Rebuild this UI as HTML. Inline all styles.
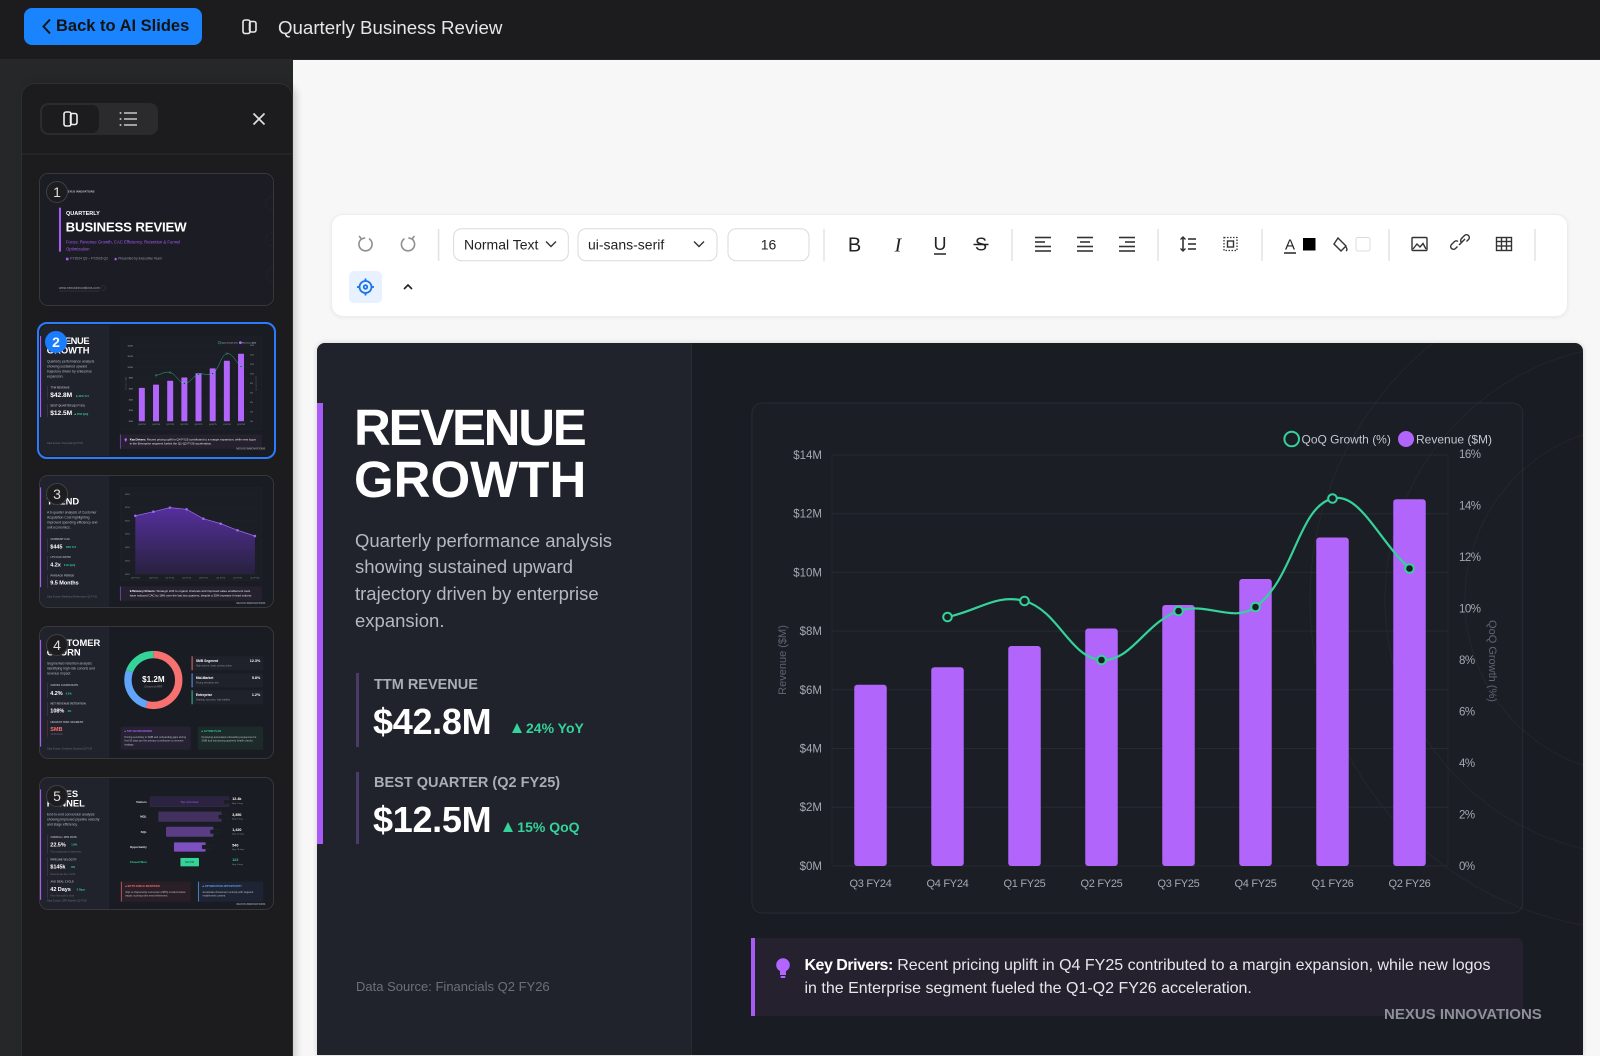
<!DOCTYPE html>
<html><head><meta charset="utf-8"><title>Quarterly Business Review</title>
<style>
*{margin:0;padding:0;box-sizing:border-box}
html,body{width:1600px;height:1056px;overflow:hidden}
body{position:relative;background:#f7f7f7;font-family:"Liberation Sans","DejaVu Sans",sans-serif}
.a{position:absolute}
.nw{white-space:nowrap}
.slide{position:absolute;width:1266px;height:712px;background:#1a1c23;overflow:hidden}
.lp{position:absolute;left:0;top:0;width:375px;height:712px;background:#20232c;border-right:1px solid #282b34}
.pb{position:absolute;left:0;width:6px;background:#a95bf6}
.tt{position:absolute;left:37px;top:59px;font-weight:bold;font-size:51px;line-height:52px;color:#fff;white-space:nowrap}
.sub{position:absolute;left:38px;top:184.5px;font-size:18.5px;line-height:26.7px;color:#b4b8c2;white-space:nowrap}
.mb{position:absolute;left:39px;width:3px;background:#4a3b68}
.ml{position:absolute;left:57px;font-size:14.5px;font-weight:bold;color:#a9adb6;line-height:18px;white-space:nowrap}
.mv{position:absolute;left:56px;font-size:36px;font-weight:bold;color:#fff;line-height:40px;white-space:nowrap;letter-spacing:-.3px}
.mg{position:absolute;font-size:14px;font-weight:bold;color:#34d399;line-height:18px;white-space:nowrap}
.ms{position:absolute;left:57px;font-size:12px;color:#6c707b;line-height:16px;white-space:nowrap}
.tri{position:absolute;width:0;height:0;border-left:5.3px solid transparent;border-right:5.3px solid transparent;border-bottom:10px solid #34d399}
.ds{position:absolute;left:39px;font-size:13px;color:#6c707b;line-height:16px;white-space:nowrap}
.cb{position:absolute;left:435px;top:60px;width:771px;height:510px;border-radius:10px;background:#1c1e26;border:1px solid #282b34}
.kb{position:absolute;left:434px;top:595px;width:772px;height:78px;background:#25212f;border-left:4px solid #a95bf6;border-radius:0 6px 6px 0}
.kt{position:absolute;left:487.5px;top:611.8px;font-size:16px;line-height:22.7px;color:#e6e7eb;white-space:nowrap}
.nx{position:absolute;left:1067px;top:663px;font-size:15px;font-weight:bold;color:#8d9099;line-height:18px;white-space:nowrap}
.th{position:absolute;left:40px;width:233px;height:131px;border-radius:8px;overflow:hidden;box-shadow:0 0 0 1px #38383b;background:#1a1c23}
.th .slide{left:0;top:0;transform:scale(.184);transform-origin:0 0}
.bd{position:absolute;width:22px;height:22px;border-radius:50%;background:#1d1d1f;border:1px solid #404043;color:#ddd;font-size:14px;line-height:20px;text-align:center}
.card{position:absolute;left:824px;width:389px;height:76px;background:#1f222b;border-left:5px solid #f87171}
.card b{position:absolute;left:18px;top:14px;font-size:18px;color:#fff}
.card i{position:absolute;left:18px;top:44px;font-size:13px;color:#8a8d96;font-style:normal;white-space:nowrap}
.card em{position:absolute;right:16px;top:14px;font-size:20px;font-weight:bold;color:#fff;font-style:normal}
.bx{position:absolute;border-radius:6px;padding:16px 20px;font-size:14px;line-height:20px;color:#b9bcc5}
.bx h4{font-size:13px;margin-bottom:10px;letter-spacing:.5px}
</style></head><body>

<!-- Top bar -->
<div class="a" style="left:0;top:0;width:1600px;height:60px;background:#1c1c1e;border-bottom:1px solid #29292b"></div>
<div class="a" style="left:24px;top:8px;width:178px;height:37px;background:#1a84ff;border-radius:8px"></div>
<svg class="a" style="left:0;top:0" width="540" height="60">
  <polyline points="50,19.5 43.5,26.5 50,33.5" fill="none" stroke="#141414" stroke-width="2"/>
  <g fill="none" stroke="#e8e8e8" stroke-width="1.6">
    <rect x="243" y="20" width="7" height="13.5" rx="2"/>
    <rect x="249.5" y="21.5" width="6.5" height="10.5" rx="2"/>
  </g>
</svg>
<div class="a nw" style="left:56px;top:14px;font-size:16.5px;font-weight:bold;color:#131313;line-height:24px">Back to AI Slides</div>
<div class="a nw" style="left:278px;top:14.5px;font-size:18.7px;color:#e6e6e6;line-height:25px">Quarterly Business Review</div>

<!-- Sidebar -->
<div class="a" style="left:0;top:60px;width:293px;height:996px;background:#262729"></div>
<div class="a" style="left:21px;top:83px;width:272px;height:980px;background:#1c1c1e;border:1px solid #2e2f31;border-radius:14px 14px 0 0;box-shadow:3px 0 8px rgba(0,0,0,.18)"></div>
<svg class="a" style="left:0;top:60px" width="293" height="110">
  <g transform="translate(0,-60)">
    <rect x="40" y="103" width="118" height="32" rx="8" fill="#2b2b2e"/>
    <rect x="42" y="105" width="57" height="28" rx="7" fill="#1c1c1e"/>
    <g fill="none" stroke="#ececec" stroke-width="1.6">
      <rect x="64" y="112" width="7" height="14" rx="2"/>
      <rect x="70.5" y="113.5" width="6.5" height="11" rx="2"/>
    </g>
    <g stroke="#bdbdbf" stroke-width="1.6">
      <line x1="124" y1="113" x2="137" y2="113"/><line x1="124" y1="119" x2="137" y2="119"/><line x1="124" y1="125" x2="137" y2="125"/>
    </g>
    <g fill="#bdbdbf"><circle cx="120.5" cy="113" r="1"/><circle cx="120.5" cy="119" r="1"/><circle cx="120.5" cy="125" r="1"/></g>
    <g stroke="#e0e0e0" stroke-width="1.7"><line x1="253.5" y1="113.5" x2="264.5" y2="124.5"/><line x1="264.5" y1="113.5" x2="253.5" y2="124.5"/></g>
    <line x1="22" y1="154" x2="292" y2="154" stroke="#2d2d30"/>
  </g>
</svg>

<!-- Thumbnail 1 -->
<div class="th" style="top:174px">
  <div class="slide" style="background:#1b1c24">
    <div class="a nw" style="left:141px;top:88px;font-size:14px;font-weight:bold;color:#c8c8d0;letter-spacing:.5px">NEXUS INNOVATIONS</div>
    <div class="a" style="left:103px;top:183px;width:11px;height:239px;background:#a95bf6"></div>
    <div class="a nw" style="left:141px;top:197px;font-size:30px;font-weight:bold;color:#fff;line-height:34px">QUARTERLY</div>
    <div class="a nw" style="left:139px;top:248px;font-size:72px;font-weight:bold;color:#fff;line-height:80px;letter-spacing:-1px">BUSINESS REVIEW</div>
    <div class="a nw" style="left:141px;top:352px;font-size:23px;color:#a95bf6;line-height:37px">Focus: Revenue Growth, CAC Efficiency, Retention &amp; Funnel<br>Optimization</div>
    <div class="a" style="left:141px;top:455px;width:14px;height:14px;background:#a95bf6"></div>
    <div class="a nw" style="left:165px;top:450px;font-size:18px;color:#9a9ca6">FY2024 Q3 – FY2026 Q2</div>
    <div class="a" style="left:405px;top:455px;width:12px;height:14px;border-radius:6px 6px 2px 2px;background:#a95bf6"></div>
    <div class="a nw" style="left:425px;top:450px;font-size:18px;color:#9a9ca6">Presented by Executive Team</div>
    <div class="a nw" style="left:103px;top:608px;font-size:18px;color:#a0a2ab;border-bottom:2px solid #555;padding-bottom:6px">www.nexusinnovations.com</div>
    <div class="a" style="left:330px;top:606px;width:28px;height:28px;border-radius:50%;border:2px solid #4a4b52"></div>
    <div class="a" style="left:1226px;top:120px;width:76px;height:76px;border-radius:50%;border:2px solid #2e2f38"></div>
    <div class="a" style="left:1226px;top:317px;width:76px;height:76px;border-radius:50%;border:2px solid #2e2f38"></div>
    <div class="a" style="left:1226px;top:512px;width:76px;height:76px;border-radius:50%;border:2px solid #2e2f38"></div>
  </div>
  <div class="bd" style="left:6px;top:7px">1</div>
</div>

<!-- Thumbnail 2 (selected) -->
<div class="a" style="left:37px;top:322px;width:239px;height:137px;border:2px solid #2a7cff;border-radius:10px"></div>
<div class="th" style="top:325px;box-shadow:none">
  <div class="slide">
    <div class="lp"></div>
    <div class="pb" style="top:60px;height:441px"></div>
    <div class="tt"><span style="letter-spacing:-2.3px">REVENUE</span><br>GROWTH</div>
    <div class="sub">Quarterly performance analysis<br>showing sustained upward<br>trajectory driven by enterprise<br>expansion.</div>
    <div class="mb" style="top:330px;height:74px"></div>
    <div class="ml" style="top:333px">TTM REVENUE</div>
    <div class="mv" style="top:358.5px">$42.8M</div>
    <div class="tri" style="left:194.7px;top:380.3px"></div>
    <div class="mg" style="left:209px;top:376px">24% YoY</div>
    <div class="mb" style="top:429px;height:72px"></div>
    <div class="ml" style="top:430.7px">BEST QUARTER (Q2 FY25)</div>
    <div class="mv" style="top:457.2px">$12.5M</div>
    <div class="tri" style="left:186.3px;top:479px"></div>
    <div class="mg" style="left:200.3px;top:475px">15% QoQ</div>
    <div class="ds" style="top:636.2px">Data Source: Financials Q2 FY26</div>
    <svg class="a" style="left:0;top:0" width="1266" height="712">
      <g transform="translate(-317,-343)" font-family="Liberation Sans, sans-serif">
        <rect x="752" y="403" width="770.7" height="510" rx="10" fill="#1c1e26" stroke="#282b34"/>
        <g stroke="#282b34"><line x1="832" y1="455" x2="1448" y2="455"/><line x1="832" y1="513.7" x2="1448" y2="513.7"/><line x1="832" y1="572.4" x2="1448" y2="572.4"/><line x1="832" y1="631.1" x2="1448" y2="631.1"/><line x1="832" y1="689.8" x2="1448" y2="689.8"/><line x1="832" y1="748.5" x2="1448" y2="748.5"/><line x1="832" y1="807.2" x2="1448" y2="807.2"/><line x1="832" y1="865.9" x2="1448" y2="865.9"/></g>
        <g fill="#b165fb"><rect x="854.25" y="684.7" width="32.5" height="181.3" rx="3"/><rect x="931.25" y="667.3" width="32.5" height="198.7" rx="3"/><rect x="1008.25" y="646" width="32.5" height="220" rx="3"/><rect x="1085.25" y="628.5" width="32.5" height="237.5" rx="3"/><rect x="1162.25" y="605" width="32.5" height="261" rx="3"/><rect x="1239.25" y="579" width="32.5" height="287" rx="3"/><rect x="1316.25" y="537.5" width="32.5" height="328.5" rx="3"/><rect x="1393.25" y="499.3" width="32.5" height="366.7" rx="3"/></g>
        <path d="M947.5,617 C978.3,610.6 996.9,593.3 1024.5,601 C1058.5,610.5 1069.8,657.9 1101.5,660 C1131.4,661.9 1145.1,622.5 1178.5,611 C1206.7,601.3 1232.9,623.5 1255.5,607 C1294.5,578.5 1297.9,507.1 1332.5,498.5 C1359.5,491.7 1378.7,540.5 1409.5,568.5" fill="none" stroke="#34d399" stroke-width="2.2"/>
        <g fill="#1c1e26" stroke="#34d399" stroke-width="2"><circle cx="947.5" cy="617" r="4.3"/><circle cx="1024.5" cy="601" r="4.3"/><circle cx="1101.5" cy="660" r="4.3"/><circle cx="1178.5" cy="611" r="4.3"/><circle cx="1255.5" cy="607" r="4.3"/><circle cx="1332.5" cy="498.5" r="4.3"/><circle cx="1409.5" cy="568.5" r="4.3"/></g>
        <g fill="#a4a8b1" font-size="11.5" text-anchor="end"><text x="822" y="459">$14M</text><text x="822" y="517.7">$12M</text><text x="822" y="576.4">$10M</text><text x="822" y="635.1">$8M</text><text x="822" y="693.8">$6M</text><text x="822" y="752.5">$4M</text><text x="822" y="811.2">$2M</text><text x="822" y="869.9">$0M</text></g>
        <g fill="#a4a8b1" font-size="11.5" letter-spacing="-.5"><text x="1459" y="458">16%</text><text x="1459" y="509.5">14%</text><text x="1459" y="561">12%</text><text x="1459" y="612.5">10%</text><text x="1459" y="664">8%</text><text x="1459" y="715.5">6%</text><text x="1459" y="767">4%</text><text x="1459" y="818.5">2%</text><text x="1459" y="870">0%</text></g>
        <g fill="#a4a8b1" font-size="11" text-anchor="middle" letter-spacing="-.3"><text x="870.5" y="887">Q3 FY24</text><text x="947.5" y="887">Q4 FY24</text><text x="1024.5" y="887">Q1 FY25</text><text x="1101.5" y="887">Q2 FY25</text><text x="1178.5" y="887">Q3 FY25</text><text x="1255.5" y="887">Q4 FY25</text><text x="1332.5" y="887">Q1 FY26</text><text x="1409.5" y="887">Q2 FY26</text></g>
        <text transform="translate(786,660) rotate(-90)" text-anchor="middle" font-size="11" fill="#5f6370">Revenue ($M)</text>
        <text transform="translate(1489,661) rotate(90)" text-anchor="middle" font-size="11" fill="#5f6370">QoQ Growth (%)</text>
        <circle cx="1291.7" cy="439" r="7.3" fill="none" stroke="#34d399" stroke-width="2"/>
        <text x="1301.5" y="443.5" font-size="12" fill="#c3c6ce">QoQ Growth (%)</text>
        <circle cx="1406" cy="439" r="8" fill="#b165fb"/>
        <text x="1416" y="443.5" font-size="12" fill="#c3c6ce">Revenue ($M)</text>
      </g>
    </svg>
    <div class="kb"></div>
    <svg class="a" style="left:456px;top:612px" width="22" height="26"><circle cx="10" cy="10" r="6.8" fill="#b266ff"/><rect x="7" y="15" width="6" height="5" fill="#b266ff"/><rect x="7.5" y="21" width="5" height="2" rx="1" fill="#b266ff"/></svg>
    <div class="kt"><b style="letter-spacing:-.5px;color:#fff">Key Drivers:</b> Recent pricing uplift in Q4 FY25 contributed to a margin expansion, while new logos<br>in the Enterprise segment fueled the Q1-Q2 FY26 acceleration.</div>
    <div class="nx">NEXUS INNOVATIONS</div>
  </div>
  <div class="bd" style="left:5px;top:6px;background:#1a7cff;border-color:#1a7cff;color:#fff;font-weight:bold">2</div>
</div>

<!-- Thumbnail 3 -->
<div class="th" style="top:476px">
  <div class="slide">
    <div class="lp"></div>
    <div class="pb" style="top:62px;height:542px"></div>
    <div class="tt">CAC<br>TREND</div>
    <div class="sub">A 6-quarter analysis of Customer<br>Acquisition Cost highlighting<br>improved spending efficiency and<br>unit economics.</div>
    <div class="mb" style="top:339px;height:76px"></div>
    <div class="ml" style="top:336px">CURRENT CAC</div>
    <div class="mv" style="top:364px;font-size:30px">$445</div>
    <div class="mg" style="left:140px;top:376px">18% YoY</div>
    <div class="mb" style="top:436px;height:77px"></div>
    <div class="ml" style="top:434px">LTV:CAC RATIO</div>
    <div class="mv" style="top:462px;font-size:30px">4.2x</div>
    <div class="mg" style="left:130px;top:474px">0.3x QoQ</div>
    <div class="mb" style="top:536px;height:71px"></div>
    <div class="ml" style="top:532px">PAYBACK PERIOD</div>
    <div class="mv" style="top:560px;font-size:30px">9.5 Months</div>
    <div class="ds" style="top:648px">Data Source: Marketing Performance Q2 FY26</div>
    <div class="cb"></div>
    <svg class="a" style="left:0;top:0" width="1266" height="712">
      <defs><linearGradient id="ag" x1="0" y1="0" x2="0" y2="1"><stop offset="0" stop-color="#7c3aed" stop-opacity=".6"/><stop offset="1" stop-color="#7c3aed" stop-opacity=".12"/></linearGradient></defs>
      <g stroke="#282b34"><line x1="500" y1="98" x2="1185" y2="98"/><line x1="500" y1="170" x2="1185" y2="170"/><line x1="500" y1="243" x2="1185" y2="243"/><line x1="500" y1="315" x2="1185" y2="315"/><line x1="500" y1="388" x2="1185" y2="388"/><line x1="500" y1="460" x2="1185" y2="460"/><line x1="500" y1="533" x2="1185" y2="533"/></g>
      <path d="M518,216 L616,194 L706,172 L797,181 L888,232 L982,259 L1073,295 L1168,326 L1168,533 L518,533 Z" fill="url(#ag)"/>
      <polyline points="518,216 616,194 706,172 797,181 888,232 982,259 1073,295 1168,326" fill="none" stroke="#9b6cf0" stroke-width="4"/>
      <g fill="#9b6cf0"><circle cx="518" cy="216" r="7"/><circle cx="616" cy="194" r="7"/><circle cx="706" cy="172" r="7"/><circle cx="797" cy="181" r="7"/><circle cx="888" cy="232" r="7"/><circle cx="982" cy="259" r="7"/><circle cx="1073" cy="295" r="7"/><circle cx="1168" cy="326" r="7"/></g>
      <g fill="#8a8d96" font-size="12" text-anchor="end"><text x="489" y="102">$600</text><text x="489" y="174">$550</text><text x="489" y="247">$500</text><text x="489" y="319">$450</text><text x="489" y="392">$400</text><text x="489" y="464">$350</text><text x="489" y="537">$300</text></g>
      <g fill="#8a8d96" font-size="12" text-anchor="middle"><text x="518" y="556">Q3 FY24</text><text x="616" y="556">Q4 FY24</text><text x="706" y="556">Q1 FY25</text><text x="797" y="556">Q2 FY25</text><text x="888" y="556">Q3 FY25</text><text x="982" y="556">Q4 FY25</text><text x="1073" y="556">Q1 FY26</text><text x="1168" y="556">Q2 FY26</text></g>
    </svg>
    <div class="kb" style="top:600px"></div>
    <div class="kt" style="top:616px;left:488px"><b style="color:#fff">Efficiency Drivers:</b> Strategic shift to organic channels and improved sales enablement tools<br>have reduced CAC by 18% over the last two quarters, despite a 25% increase in lead volume.</div>
    <div class="nx" style="top:684px">NEXUS INNOVATIONS</div>
  </div>
  <div class="bd" style="left:6px;top:7px">3</div>
</div>

<!-- Thumbnail 4 -->
<div class="th" style="top:627px">
  <div class="slide">
    <div class="lp"></div>
    <div class="pb" style="top:70px;height:580px"></div>
    <div class="tt">CUSTOMER<br>CHURN</div>
    <div class="sub">Segmented retention analysis<br>identifying high-risk cohorts and<br>revenue impact.</div>
    <div class="mb" style="top:305px;height:80px"></div>
    <div class="ml" style="top:308px">GROSS CHURN RATE</div>
    <div class="mv" style="top:340px;font-size:30px">4.2%</div>
    <div class="mg" style="left:140px;top:352px">0.3%</div>
    <div class="mb" style="top:405px;height:80px"></div>
    <div class="ml" style="top:409px">NET REVENUE RETENTION</div>
    <div class="mv" style="top:435px;font-size:30px">108%</div>
    <div class="mg" style="left:150px;top:447px">2%</div>
    <div class="mb" style="top:505px;height:92px;background:#6b2f3a"></div>
    <div class="ml" style="top:508px">HIGHEST RISK SEGMENT</div>
    <div class="mv" style="top:535px;font-size:30px;color:#f87171">SMB</div>
    <div class="ms" style="top:575px">12.3% churn</div>
    <div class="ds" style="top:655px">Data Source: Customer Success Q2 FY26</div>
    <svg class="a" style="left:0;top:0" width="1266" height="712">
      <g transform="rotate(-90 616 288)" fill="none" stroke-width="40">
        <circle cx="616" cy="288" r="138" stroke="#f87171" stroke-dasharray="469.7 867.1"/>
        <circle cx="616" cy="288" r="138" stroke="#60a5fa" stroke-dasharray="228.8 867.1" stroke-dashoffset="-469.7"/>
        <circle cx="616" cy="288" r="138" stroke="#34d399" stroke-dasharray="168.6 867.1" stroke-dashoffset="-698.5"/>
      </g>
      <text x="616" y="300" text-anchor="middle" font-size="44" font-weight="bold" fill="#fff">$1.2M</text>
      <text x="616" y="330" text-anchor="middle" font-size="16" fill="#8a8d96">Churned ARR</text>
    </svg>
    <div class="card" style="top:159px"><b>SMB Segment</b><i>High volume, lower contract value</i><em>12.3%</em></div>
    <div class="card" style="top:252px;border-left-color:#60a5fa"><b>Mid-Market</b><i>Pricing sensitivity risk</i><em>5.8%</em></div>
    <div class="card" style="top:344px;border-left-color:#34d399"><b>Enterprise</b><i>Strategic accounts, high stability</i><em>1.2%</em></div>
    <div class="bx" style="left:439px;top:542px;width:380px;height:125px;background:#262233"><h4 style="color:#b266ff">■ TOP CHURN DRIVER</h4>Pricing sensitivity in SMB and onboarding gaps during first 90 days are the primary contributors to revenue leakage.</div>
    <div class="bx" style="left:858px;top:542px;width:355px;height:125px;background:#1d2a2a"><h4 style="color:#34d399">■ ACTION PLAN</h4>Deploying automated onboarding sequences for SMB and introducing quarterly health checks.</div>
  </div>
  <div class="bd" style="left:6px;top:7px">4</div>
</div>

<!-- Thumbnail 5 -->
<div class="th" style="top:778px">
  <div class="slide">
    <div class="lp"></div>
    <div class="pb" style="top:62px;height:600px"></div>
    <div class="tt">SALES<br>FUNNEL</div>
    <div class="sub">End-to-end conversion analysis<br>showing improved pipeline velocity<br>and stage efficiency.</div>
    <div class="mb" style="top:311px;height:102px"></div>
    <div class="ml" style="top:313px">OVERALL WIN RATE</div>
    <div class="mv" style="top:342px;font-size:30px">22.5%</div>
    <div class="mg" style="left:170px;top:354px">1.8%</div>
    <div class="ms" style="top:392px">From opportunity to closed-won</div>
    <div class="mb" style="top:431px;height:102px"></div>
    <div class="ml" style="top:435px">PIPELINE VELOCITY</div>
    <div class="mv" style="top:464px;font-size:30px">$145k</div>
    <div class="mg" style="left:170px;top:476px">8%</div>
    <div class="ms" style="top:514px">Revenue per day / month</div>
    <div class="mb" style="top:552px;height:102px"></div>
    <div class="ml" style="top:556px">AVG DEAL CYCLE</div>
    <div class="mv" style="top:585px;font-size:30px">42 Days</div>
    <div class="mg" style="left:200px;top:597px">5 Days</div>
    <div class="ms" style="top:633px">From first touch to close</div>
    <div class="ds" style="top:660px">Data Source: CRM Pipeline Q2 FY26</div>
    <svg class="a" style="left:0;top:0" width="1266" height="712" font-family="Liberation Sans, sans-serif">
      <rect x="598" y="102" width="429" height="54" rx="4" fill="#2b2340" stroke="#3e3157" stroke-width="2"/>
      <rect x="643" y="183" width="344" height="55" rx="4" fill="#42305f"/>
      <rect x="685" y="265" width="257" height="54" rx="4" fill="#5a3d85"/>
      <rect x="728" y="350" width="172" height="50" rx="4" fill="#7d4fc0"/>
      <rect x="761" y="432" width="105" height="50" rx="4" fill="#34d399" stroke="#111" stroke-width="4"/>
      <text x="812" y="135" text-anchor="middle" font-size="16" fill="#a95bf6">Top of Funnel</text>
      <text x="813" y="463" text-anchor="middle" font-size="14" fill="#0f3b2c">$12.5M</text>
      <g font-size="16" font-weight="bold" fill="#e5e7eb" text-anchor="end"><text x="580" y="135">Visitors</text><text x="580" y="216">MQL</text><text x="580" y="298">SQL</text><text x="580" y="381">Opportunity</text><text x="580" y="463" fill="#34d399">Closed Won</text></g>
      <g fill="#1a1c23" stroke="#3a3d48"><rect x="1000" y="119" width="56" height="22" rx="4"/><rect x="970" y="200" width="56" height="22" rx="4"/><rect x="925" y="281" width="56" height="22" rx="4"/><rect x="880" y="364" width="56" height="22" rx="4"/></g>
      <g font-size="20" font-weight="bold" fill="#fff"><text x="1045" y="120">12.4k</text><text x="1045" y="206">3,850</text><text x="1045" y="288">1,420</text><text x="1045" y="372">540</text><text x="1045" y="452" fill="#34d399">122</text></g>
      <g font-size="12" fill="#8a8d96"><text x="1045" y="140">Avg 2 days</text><text x="1045" y="226">Avg 6 days</text><text x="1045" y="308">Avg 12 days</text><text x="1045" y="392">Avg 18 days</text><text x="1045" y="472">Avg 4 days</text></g>
    </svg>
    <div class="bx" style="left:439px;top:563px;width:380px;height:109px;background:#2a1f27;border-left:5px solid #f87171;border-radius:0 6px 6px 0"><h4 style="color:#f87171">■ BOTTLENECK IDENTIFIED</h4>SQL to Opportunity conversion (38%) remains below target; scoring rules need refinement.</div>
    <div class="bx" style="left:858px;top:563px;width:355px;height:109px;background:#1e2433;border-left:5px solid #60a5fa;border-radius:0 6px 6px 0"><h4 style="color:#60a5fa">■ OPTIMIZATION OPPORTUNITY</h4>Accelerate closed-won velocity with targeted enablement content.</div>
    <div class="nx" style="top:678px">NEXUS INNOVATIONS</div>
  </div>
  <div class="bd" style="left:6px;top:7px">5</div>
</div>

<!-- Toolbar -->
<div class="a" style="left:331px;top:214px;width:1237px;height:103px;background:#fff;border-radius:12px;border:1px solid #ededed;box-shadow:0 1px 4px rgba(0,0,0,.06)"></div>
<svg class="a" style="left:331px;top:214px" width="1237" height="103">
  <g transform="translate(-331,-214)" font-family="Liberation Sans, sans-serif">
    <g fill="none" stroke="#8e8e93" stroke-width="1.6" stroke-linecap="round">
      <path d="M361.5 239 A6.6 6.6 0 1 0 369.5 239"/><path d="M359.5 236.5 L361.5 239 L364.5 238"/>
      <path d="M404 239 A6.6 6.6 0 1 0 412 239"/><path d="M414 236.5 L412 239 L409 238"/>
    </g>
    <g stroke="#e2e2e2" stroke-width="1.5"><line x1="438.6" y1="229" x2="438.6" y2="261"/><line x1="824" y1="229" x2="824" y2="261"/><line x1="1012" y1="229" x2="1012" y2="261"/><line x1="1158" y1="229" x2="1158" y2="261"/><line x1="1262" y1="229" x2="1262" y2="261"/><line x1="1389" y1="229" x2="1389" y2="261"/><line x1="1535" y1="229" x2="1535" y2="261"/></g>
    <g fill="#fff" stroke="#dadada"><rect x="453.6" y="228.7" width="114.7" height="32" rx="8"/><rect x="578" y="228.7" width="139" height="32" rx="8"/><rect x="728" y="228.7" width="81" height="32" rx="8"/></g>
    <g font-size="14" fill="#222"><text x="464" y="249.5">Normal Text</text><text x="588" y="249.5">ui-sans-serif</text><text x="768.5" y="249.5" text-anchor="middle">16</text></g>
    <g fill="none" stroke="#333" stroke-width="1.4"><polyline points="546,241.5 551,246.5 556,241.5"/><polyline points="694,241.5 699,246.5 704,241.5"/></g>
    <text x="854.6" y="251.5" font-size="20" text-anchor="middle" fill="#222">B</text>
    <text x="898" y="251.5" font-size="20" text-anchor="middle" fill="#222" font-family="Liberation Serif, serif" font-style="italic">I</text>
    <text x="940" y="250" font-size="18" text-anchor="middle" fill="#222">U</text>
    <line x1="934" y1="254" x2="946" y2="254" stroke="#222" stroke-width="1.5"/>
    <text x="981" y="250.5" font-size="18" text-anchor="middle" fill="#222">S</text>
    <line x1="973.5" y1="244.5" x2="988.5" y2="244.5" stroke="#222" stroke-width="1.5"/>
    <g stroke="#333" stroke-width="1.6">
      <line x1="1035" y1="237.5" x2="1051" y2="237.5"/><line x1="1035" y1="242" x2="1045" y2="242"/><line x1="1035" y1="246.5" x2="1051" y2="246.5"/><line x1="1035" y1="251" x2="1051" y2="251"/>
      <line x1="1077" y1="237.5" x2="1093" y2="237.5"/><line x1="1080" y1="242" x2="1090" y2="242"/><line x1="1077" y1="246.5" x2="1093" y2="246.5"/><line x1="1077" y1="251" x2="1093" y2="251"/>
      <line x1="1119" y1="237.5" x2="1135" y2="237.5"/><line x1="1125" y1="242" x2="1135" y2="242"/><line x1="1119" y1="246.5" x2="1135" y2="246.5"/><line x1="1119" y1="251" x2="1135" y2="251"/>
      <line x1="1183" y1="237" x2="1183" y2="251"/><line x1="1188" y1="239" x2="1196" y2="239"/><line x1="1188" y1="244" x2="1196" y2="244"/><line x1="1188" y1="249" x2="1196" y2="249"/>
    </g>
    <g fill="none" stroke="#333" stroke-width="1.4"><polyline points="1180.5,239.5 1183,237 1185.5,239.5"/><polyline points="1180.5,248.5 1183,251 1185.5,248.5"/></g>
    <rect x="1224" y="237.5" width="13" height="13" fill="none" stroke="#333" stroke-width="1.3" stroke-dasharray="1.5 1.5"/>
    <rect x="1227.5" y="241" width="6" height="6" fill="none" stroke="#333" stroke-width="1.4"/>
    <text x="1290" y="249.5" font-size="15" text-anchor="middle" fill="#222">A</text>
    <line x1="1284" y1="253" x2="1296" y2="253" stroke="#222" stroke-width="1.5"/>
    <rect x="1303" y="238" width="12.5" height="12.5" fill="#000"/>
    <g fill="none" stroke="#333" stroke-width="1.4"><path d="M1338 238 L1346 246 L1341 251 L1334 244 Z"/><path d="M1346 247 q2 3 0 4"/></g>
    <rect x="1356" y="237.5" width="14" height="13.5" rx="2" fill="#fff" stroke="#dcdcdc"/>
    <g fill="none" stroke="#333" stroke-width="1.4"><rect x="1412" y="237.5" width="15" height="13" rx="1"/><polyline points="1413,249 1417,244 1420,247 1423,243.5 1426,249"/>
      <path d="M1457.5 246.5 L1455.5 248.5 A2.8 2.8 0 0 1 1451.5 244.5 L1454.5 241.5 A2.8 2.8 0 0 1 1458 241.5"/><path d="M1466.5 241.5 L1468.5 239.5 A2.8 2.8 0 0 0 1464.5 235.5 L1461.5 238.5 A2.8 2.8 0 0 0 1461.5 242.5"/><line x1="1459" y1="245" x2="1465" y2="239"/>
      <rect x="1496.5" y="237.5" width="15" height="13"/><line x1="1496.5" y1="241.5" x2="1511.5" y2="241.5"/><line x1="1496.5" y1="246" x2="1511.5" y2="246"/><line x1="1501.5" y1="237.5" x2="1501.5" y2="250.5"/><line x1="1506.5" y1="237.5" x2="1506.5" y2="250.5"/></g>
    <rect x="349" y="271" width="33" height="32" rx="5" fill="#e8f1ff"/>
    <g fill="none" stroke="#1a73e8" stroke-width="1.8"><circle cx="365.5" cy="287" r="6"/><circle cx="365.5" cy="287" r="1.8"/><line x1="365.5" y1="278.5" x2="365.5" y2="281"/><line x1="365.5" y1="293" x2="365.5" y2="295.5"/><line x1="357" y1="287" x2="359.5" y2="287"/><line x1="371.5" y1="287" x2="374" y2="287"/></g>
    <polyline points="404,289 408,285 412,289" fill="none" stroke="#222" stroke-width="1.6"/>
  </g>
</svg>

<!-- Main slide -->
<div class="slide" style="left:317px;top:343px;border-radius:8px 8px 0 0;box-shadow:0 0 6px rgba(0,0,0,.15)">
  <div class="lp"></div>
  <div class="pb" style="top:60px;height:441px"></div>
  <div class="tt"><span style="letter-spacing:-2.3px">REVENUE</span><br>GROWTH</div>
  <div class="sub">Quarterly performance analysis<br>showing sustained upward<br>trajectory driven by enterprise<br>expansion.</div>
  <div class="mb" style="top:330px;height:74px"></div>
  <div class="ml" style="top:333px">TTM REVENUE</div>
  <div class="mv" style="top:358.5px">$42.8M</div>
  <div class="tri" style="left:194.7px;top:380.3px"></div>
  <div class="mg" style="left:209px;top:376px">24% YoY</div>
  <div class="mb" style="top:429px;height:72px"></div>
  <div class="ml" style="top:430.7px">BEST QUARTER (Q2 FY25)</div>
  <div class="mv" style="top:457.2px">$12.5M</div>
  <div class="tri" style="left:186.3px;top:479px"></div>
  <div class="mg" style="left:200.3px;top:475px">15% QoQ</div>
  <div class="ds" style="top:636.2px">Data Source: Financials Q2 FY26</div>
  <svg class="a" style="left:0;top:0" width="1266" height="712">
    <g transform="translate(-317,-343)" font-family="Liberation Sans, sans-serif">
      <rect x="752" y="403" width="770.7" height="510" rx="10" fill="#1c1e26" stroke="#282b34"/>
      <g fill="none" stroke="#ffffff" stroke-opacity=".04"><circle cx="1640" cy="600" r="175"/><circle cx="1640" cy="600" r="255"/><circle cx="1640" cy="600" r="330"/></g>
      <g stroke="#272a33"><line x1="832" y1="455" x2="1448" y2="455"/><line x1="832" y1="513.7" x2="1448" y2="513.7"/><line x1="832" y1="572.4" x2="1448" y2="572.4"/><line x1="832" y1="631.1" x2="1448" y2="631.1"/><line x1="832" y1="689.8" x2="1448" y2="689.8"/><line x1="832" y1="748.5" x2="1448" y2="748.5"/><line x1="832" y1="807.2" x2="1448" y2="807.2"/><line x1="832" y1="865.9" x2="1448" y2="865.9"/></g>
      <g stroke="#23262e"><line x1="832" y1="455" x2="832" y2="866"/><line x1="1448" y1="455" x2="1448" y2="866"/></g>
      <g fill="#b165fb"><rect x="854.25" y="684.7" width="32.5" height="181.3" rx="3"/><rect x="931.25" y="667.3" width="32.5" height="198.7" rx="3"/><rect x="1008.25" y="646" width="32.5" height="220" rx="3"/><rect x="1085.25" y="628.5" width="32.5" height="237.5" rx="3"/><rect x="1162.25" y="605" width="32.5" height="261" rx="3"/><rect x="1239.25" y="579" width="32.5" height="287" rx="3"/><rect x="1316.25" y="537.5" width="32.5" height="328.5" rx="3"/><rect x="1393.25" y="499.3" width="32.5" height="366.7" rx="3"/></g>
      <path d="M947.5,617 C978.3,610.6 996.9,593.3 1024.5,601 C1058.5,610.5 1069.8,657.9 1101.5,660 C1131.4,661.9 1145.1,622.5 1178.5,611 C1206.7,601.3 1232.9,623.5 1255.5,607 C1294.5,578.5 1297.9,507.1 1332.5,498.5 C1359.5,491.7 1378.7,540.5 1409.5,568.5" fill="none" stroke="#34d399" stroke-width="2.2"/>
      <g fill="#1c1e26" stroke="#34d399" stroke-width="2"><circle cx="947.5" cy="617" r="4.3"/><circle cx="1024.5" cy="601" r="4.3"/><circle cx="1101.5" cy="660" r="4.3"/><circle cx="1178.5" cy="611" r="4.3"/><circle cx="1255.5" cy="607" r="4.3"/><circle cx="1332.5" cy="498.5" r="4.3"/><circle cx="1409.5" cy="568.5" r="4.3"/></g>
      <g fill="#a4a8b1" font-size="11.5" text-anchor="end"><text x="822" y="459">$14M</text><text x="822" y="517.7">$12M</text><text x="822" y="576.4">$10M</text><text x="822" y="635.1">$8M</text><text x="822" y="693.8">$6M</text><text x="822" y="752.5">$4M</text><text x="822" y="811.2">$2M</text><text x="822" y="869.9">$0M</text></g>
      <g fill="#a4a8b1" font-size="11.5" letter-spacing="-.5"><text x="1459" y="458">16%</text><text x="1459" y="509.5">14%</text><text x="1459" y="561">12%</text><text x="1459" y="612.5">10%</text><text x="1459" y="664">8%</text><text x="1459" y="715.5">6%</text><text x="1459" y="767">4%</text><text x="1459" y="818.5">2%</text><text x="1459" y="870">0%</text></g>
      <g fill="#a4a8b1" font-size="11" text-anchor="middle" letter-spacing="-.3"><text x="870.5" y="887">Q3 FY24</text><text x="947.5" y="887">Q4 FY24</text><text x="1024.5" y="887">Q1 FY25</text><text x="1101.5" y="887">Q2 FY25</text><text x="1178.5" y="887">Q3 FY25</text><text x="1255.5" y="887">Q4 FY25</text><text x="1332.5" y="887">Q1 FY26</text><text x="1409.5" y="887">Q2 FY26</text></g>
      <text transform="translate(786,660) rotate(-90)" text-anchor="middle" font-size="11" fill="#5f6370">Revenue ($M)</text>
      <text transform="translate(1489,661) rotate(90)" text-anchor="middle" font-size="11" fill="#5f6370">QoQ Growth (%)</text>
      <circle cx="1291.7" cy="439" r="7.3" fill="none" stroke="#34d399" stroke-width="2"/>
      <text x="1301.5" y="443.5" font-size="12" fill="#c3c6ce">QoQ Growth (%)</text>
      <circle cx="1406" cy="439" r="8" fill="#b165fb"/>
      <text x="1416" y="443.5" font-size="12" fill="#c3c6ce">Revenue ($M)</text>
    </g>
  </svg>
  <div class="kb"></div>
  <svg class="a" style="left:456px;top:612px" width="22" height="26"><circle cx="10" cy="10" r="6.8" fill="#b266ff"/><rect x="7" y="15" width="6" height="5" fill="#b266ff"/><rect x="7.5" y="21" width="5" height="2" rx="1" fill="#b266ff"/></svg>
  <div class="kt"><b style="letter-spacing:-.5px;color:#fff">Key Drivers:</b> Recent pricing uplift in Q4 FY25 contributed to a margin expansion, while new logos<br>in the Enterprise segment fueled the Q1-Q2 FY26 acceleration.</div>
  <div class="nx">NEXUS INNOVATIONS</div>
</div>

</body></html>
